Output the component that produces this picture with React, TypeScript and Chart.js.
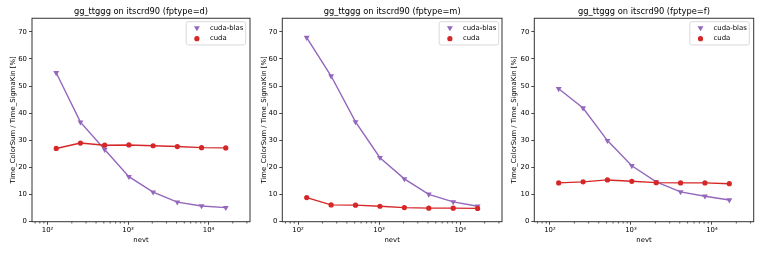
import React, { useEffect, useRef } from 'react';
import { Chart, registerables } from 'chart.js';

Chart.register(...registerables);

// ---------------- data ----------------
const nevt = [128, 256, 512, 1024, 2048, 4096, 8192, 16384];

const titleD = 'gg_ttggg on itscrd90 (fptype=d)';
const titleM = 'gg_ttggg on itscrd90 (fptype=m)';
const titleF = 'gg_ttggg on itscrd90 (fptype=f)';

const blasD = [54.9, 36.7, 26.6, 16.6, 10.9, 7.2, 5.8, 5.2];
const cudaD = [27.0, 29.0, 28.2, 28.3, 28.0, 27.7, 27.3, 27.2];

const blasM = [67.9, 53.7, 36.8, 23.6, 15.8, 10.1, 7.3, 5.7];
const cudaM = [8.9, 6.2, 6.1, 5.7, 5.2, 5.0, 5.0, 4.9];

const blasF = [49.0, 41.9, 29.9, 20.6, 14.7, 11.0, 9.4, 8.0];
const cudaF = [14.3, 14.7, 15.4, 14.9, 14.4, 14.3, 14.3, 14.0];

const seriesLabels = ['cuda-blas', 'cuda'];
const xTitle = 'nevt';
const yTitle = 'Time_ColorSum / Time_SigmaKin [%]';

const yTickValues = [0, 10, 20, 30, 40, 50, 60, 70];
const xMajorTicks = [100, 1000, 10000];
const xMajorLabels = ['10²', '10³', '10⁴'];
const xMinorTicks = [
  70, 80, 90,
  200, 300, 400, 500, 600, 700, 800, 900,
  2000, 3000, 4000, 5000, 6000, 7000, 8000, 9000,
  20000, 30000,
];
const xMin = 64;
const xMax = 32768;
const yMin = 0;
const yMax = 75;

// ---------------- styles ----------------
const FONT = '"DejaVu Sans", Verdana, sans-serif';
const TEXT = '#000000';
const SPINE = '#333333';
const BLAS_COLOR = '#9467bd';
const CUDA_COLOR = '#d62728';
const TICK_SIZE = 6.9;
const TITLE_SIZE = 8.3;

type Spec = {
  canvasLeft: number;
  canvasWidth: number;
  yAxisWidth: number;
  padRight: number;
  yTitlePad: number;
  legendRight: number;
  title: string;
  blas: number[];
  cuda: number[];
};

const panels: Spec[] = [
  { canvasLeft: 0, canvasWidth: 254, yAxisWidth: 32, padRight: 3, yTitlePad: 8.7, legendRight: 4.3, title: titleD, blas: blasD, cuda: cudaD },
  { canvasLeft: 250, canvasWidth: 256, yAxisWidth: 32.3, padRight: 3.7, yTitlePad: 9.7, legendRight: 3.3, title: titleM, blas: blasM, cuda: cudaM },
  { canvasLeft: 502, canvasWidth: 259, yAxisWidth: 32.3, padRight: 7.3, yTitlePad: 7.6, legendRight: 4.4, title: titleF, blas: blasF, cuda: cudaF },
];

function drawMarker(ctx: CanvasRenderingContext2D, style: string, x: number, y: number, r: number, color: string) {
  ctx.fillStyle = color;
  ctx.beginPath();
  if (style === 'triangle') {
    const s = Math.sin(Math.PI / 3) * r;
    ctx.moveTo(x, y + r);
    ctx.lineTo(x - s, y - r / 2);
    ctx.lineTo(x + s, y - r / 2);
    ctx.closePath();
  } else {
    ctx.arc(x, y, r, 0, Math.PI * 2);
  }
  ctx.fill();
}

const frameLegendPlugin = {
  id: 'frameLegend',
  afterDraw(chart: any, _args: any, opts: any) {
    const { ctx, chartArea: a } = chart;
    const xs = chart.scales.x;
    ctx.save();
    // minor ticks
    ctx.strokeStyle = SPINE;
    ctx.lineWidth = 0.8;
    ctx.beginPath();
    xMinorTicks.forEach((v) => {
      const px = xs.getPixelForValue(v);
      ctx.moveTo(px, a.bottom);
      ctx.lineTo(px, a.bottom + 1.8);
    });
    ctx.stroke();
    // frame
    ctx.lineWidth = 1;
    ctx.strokeRect(a.left, a.top, a.right - a.left, a.bottom - a.top);

    // legend
    const w = 59.5;
    const h = 23.3;
    const bx = a.right - opts.legendRight - w;
    const by = a.top + 3.4;
    const rr = 2;
    ctx.beginPath();
    ctx.moveTo(bx + rr, by);
    ctx.lineTo(bx + w - rr, by);
    ctx.quadraticCurveTo(bx + w, by, bx + w, by + rr);
    ctx.lineTo(bx + w, by + h - rr);
    ctx.quadraticCurveTo(bx + w, by + h, bx + w - rr, by + h);
    ctx.lineTo(bx + rr, by + h);
    ctx.quadraticCurveTo(bx, by + h, bx, by + h - rr);
    ctx.lineTo(bx, by + rr);
    ctx.quadraticCurveTo(bx, by, bx + rr, by);
    ctx.closePath();
    ctx.fillStyle = 'rgba(255,255,255,0.8)';
    ctx.fill();
    ctx.strokeStyle = '#d0d0d0';
    ctx.lineWidth = 0.8;
    ctx.stroke();

    ctx.font = `${TICK_SIZE}px ${FONT}`;
    ctx.textBaseline = 'middle';
    ctx.textAlign = 'left';
    chart.data.datasets.forEach((ds: any, i: number) => {
      const my = by + 6.3 + i * 10.7;
      const mx = bx + 10.7;
      drawMarker(ctx, ds.pointStyle, mx, my, ds.pointStyle === 'triangle' ? 3.4 : 2.6, ds.borderColor);
      ctx.fillStyle = TEXT;
      ctx.fillText(ds.label, bx + 23.7, my);
    });
    ctx.restore();
  },
};

function Panel({ spec }: { spec: Spec }) {
  const ref = useRef<HTMLCanvasElement>(null);
  useEffect(() => {
    const tickFont = { family: FONT, size: TICK_SIZE };
    const chart = new Chart(ref.current!, {
      type: 'line',
      data: {
        datasets: [
          {
            label: seriesLabels[0],
            data: nevt.map((n, i) => ({ x: n, y: spec.blas[i] })),
            borderColor: BLAS_COLOR,
            backgroundColor: BLAS_COLOR,
            borderWidth: 1.4,
            pointStyle: 'triangle',
            pointRotation: 180,
            pointRadius: 3.4,
            pointBorderWidth: 0,
            order: 1,
          },
          {
            label: seriesLabels[1],
            data: nevt.map((n, i) => ({ x: n, y: spec.cuda[i] })),
            borderColor: CUDA_COLOR,
            backgroundColor: CUDA_COLOR,
            borderWidth: 1.4,
            pointStyle: 'circle',
            pointRadius: 2.6,
            pointBorderWidth: 0,
            order: 0,
          },
        ],
      },
      options: {
        responsive: false,
        animation: false,
        devicePixelRatio: 1,
        events: [],
        layout: { padding: { left: 0, right: spec.padRight, top: 0, bottom: 0 } },
        plugins: {
          legend: { display: false },
          tooltip: { enabled: false },
          title: {
            display: true,
            fullSize: false,
            text: spec.title,
            color: TEXT,
            font: { family: FONT, size: TITLE_SIZE, weight: 'normal' },
            padding: { top: 7, bottom: 1.3 },
          },
          frameLegend: { legendRight: spec.legendRight },
        } as any,
        scales: {
          x: {
            type: 'logarithmic',
            min: xMin,
            max: xMax,
            afterBuildTicks: (s: any) => {
              s.ticks = xMajorTicks.map((v) => ({ value: v }));
            },
            afterFit: (s: any) => {
              s.height = 32.3;
            },
            ticks: {
              callback: (v: any) => {
                const idx = xMajorTicks.indexOf(Number(v));
                return idx >= 0 ? xMajorLabels[idx] : '';
              },
              autoSkip: false,
              maxRotation: 0,
              minRotation: 0,
              color: TEXT,
              font: tickFont,
              padding: 1.5,
            },
            grid: {
              display: true,
              drawOnChartArea: false,
              drawTicks: true,
              tickLength: 3,
              tickColor: SPINE,
              tickWidth: 0.9,
            },
            border: { display: false },
            title: {
              display: true,
              text: xTitle,
              color: TEXT,
              font: tickFont,
              padding: { top: 0, bottom: 9.9 },
            },
          },
          y: {
            type: 'linear',
            min: yMin,
            max: yMax,
            afterBuildTicks: (s: any) => {
              s.ticks = yTickValues.map((v) => ({ value: v }));
            },
            afterFit: (s: any) => {
              s.width = spec.yAxisWidth;
            },
            ticks: {
              color: TEXT,
              font: tickFont,
              padding: 2,
              autoSkip: false,
            },
            grid: {
              display: true,
              drawOnChartArea: false,
              drawTicks: true,
              tickLength: 3,
              tickColor: SPINE,
              tickWidth: 0.9,
            },
            border: { display: false },
            title: {
              display: true,
              text: yTitle,
              color: TEXT,
              font: tickFont,
              padding: { top: spec.yTitlePad, bottom: 0 },
            },
          },
        },
      } as any,
      plugins: [frameLegendPlugin],
    });
    return () => chart.destroy();
  }, []);
  return (
    <canvas
      ref={ref}
      width={spec.canvasWidth}
      height={254}
      style={{ position: 'absolute', left: spec.canvasLeft, top: 0, width: spec.canvasWidth, height: 254 }}
    />
  );
}

export default function App() {
  return (
    <div style={{ position: 'absolute', left: 0, top: 0, width: 761, height: 254, background: '#ffffff', overflow: 'hidden' }}>
      {panels.map((p, i) => (
        <Panel key={i} spec={p} />
      ))}
    </div>
  );
}
